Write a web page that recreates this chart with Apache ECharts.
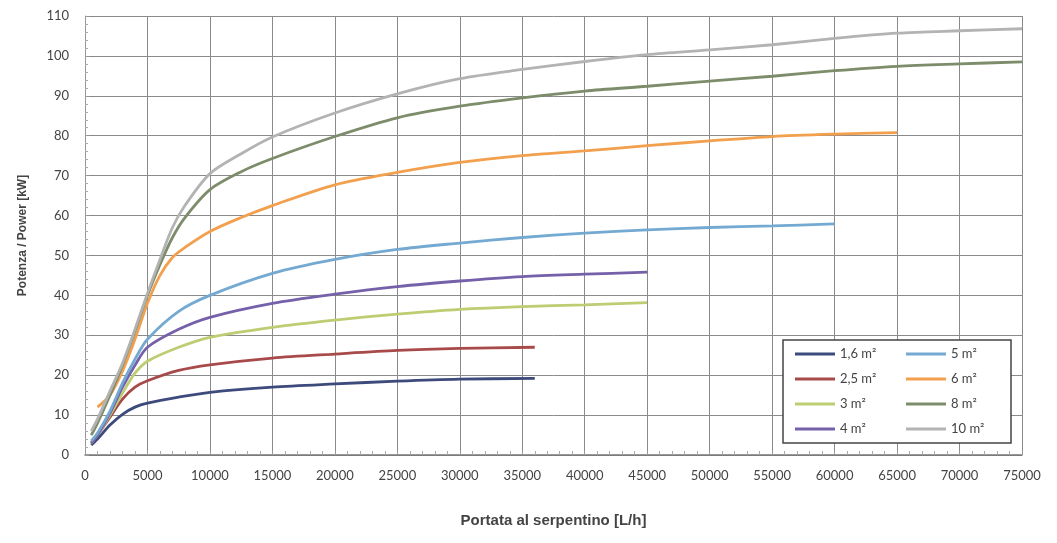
<!DOCTYPE html>
<html>
<head>
<meta charset="utf-8">
<script src="https://cdn.jsdelivr.net/npm/echarts@6/dist/echarts.min.js"></script>
<style>html,body{margin:0;padding:0;background:#fff}#c{width:1057px;height:543px}</style>
</head>
<body>
<div id="c"></div>
<script>
// Series names
const names = ['1,6 m²','2,5 m²','3 m²','4 m²','5 m²','6 m²','8 m²','10 m²'];
const colors = ['#3d4b7c','#a84a4a','#bccd72','#7560aa','#74aad2','#f2a04e','#7d8c6a','#b3b3b3'];

// Flow [L/h] and power [kW] per surface
const flow_1_6 = [500,1000,2000,3000,4000,5000,7500,10000,15000,20000,25000,30000,36000];
const pow_1_6  = [2.5,4,7.5,10.2,12,13,14.5,15.7,17,17.8,18.5,19.0,19.2];

const flow_2_5 = [500,1000,2000,3000,4000,5000,7500,10000,15000,20000,25000,30000,36000];
const pow_2_5  = [3,5,9.5,14,17,18.6,21.2,22.6,24.3,25.3,26.2,26.7,27.0];

const flow_3 = [500,1000,2000,3000,4000,5000,7500,10000,15000,20000,25000,30000,35000,40000,45000];
const pow_3  = [3,5,10,15.5,20.5,23.5,27,29.5,32,33.8,35.3,36.5,37.2,37.6,38.2];

const flow_4 = [500,1000,2000,3000,4000,5000,7500,10000,15000,20000,25000,30000,35000,40000,45000];
const pow_4  = [3,5,10.5,17,22.5,27,31.5,34.5,38,40.3,42.2,43.6,44.7,45.3,45.8];

const flow_5 = [500,1000,2000,3000,4000,5000,7500,10000,15000,20000,25000,30000,35000,40000,45000,50000,55000,60000];
const pow_5  = [3.5,5.5,11,18,24,29,36,40,45.5,49,51.5,53.1,54.5,55.6,56.4,57,57.4,57.9];

const flow_6 = [1000,2000,3000,4000,5000,6000,7000,8000,10000,12500,15000,20000,25000,30000,35000,40000,45000,50000,55000,60000,65000];
const pow_6  = [12,15,21,29,38,45,49.5,52,56,59.5,62.5,67.7,70.8,73.3,75,76.2,77.5,78.7,79.8,80.4,80.8];

const flow_8 = [500,1000,2000,3000,4000,5000,6000,7000,8000,10000,12500,15000,20000,25000,30000,35000,40000,45000,50000,55000,60000,65000,70000,75000];
const pow_8  = [5,8,15,22.5,31,40,47.7,54.5,59.5,66.5,71,74.3,79.8,84.5,87.4,89.5,91.2,92.4,93.7,94.9,96.3,97.4,98,98.5];

const flow_10 = [500,1000,2000,3000,4000,5000,6000,7000,8000,10000,12500,15000,20000,25000,30000,35000,40000,45000,50000,55000,60000,65000,70000,75000];
const pow_10  = [6,9,16,23,31.5,40.5,49,57,62.5,70.5,75.5,79.7,85.7,90.5,94.3,96.6,98.6,100.3,101.5,102.8,104.4,105.7,106.3,106.8];

const flows = [flow_1_6,flow_2_5,flow_3,flow_4,flow_5,flow_6,flow_8,flow_10];
const pows  = [pow_1_6,pow_2_5,pow_3,pow_4,pow_5,pow_6,pow_8,pow_10];

const font = 'Lato, "Open Sans", sans-serif';
const chart = echarts.init(document.getElementById('c'));
chart.setOption({
  animation: false,
  backgroundColor: '#fff',
  grid: { left: 85, right: 35, top: 16, bottom: 88, containLabel: false },
  xAxis: {
    type: 'value', min: 0, max: 75000, interval: 5000,
    name: 'Portata al serpentino [L/h]', nameLocation: 'middle', nameGap: 58,
    nameTextStyle: { fontFamily: 'Liberation Sans, Arial, sans-serif', fontWeight: 'bold', fontSize: 15, color: '#444' },
    axisLine: { show: true, lineStyle: { color: '#777', width: 1.5 } },
    axisTick: { show: true, inside: true, length: 4, lineStyle: { color: '#999' } },
    minorTick: { show: true, splitNumber: 5, length: 4, lineStyle: { color: '#aaa' } },
    axisLabel: { fontFamily: font, fontSize: 13, color: '#444', margin: 14, formatter: v => String(v) },
    splitLine: { show: true, lineStyle: { color: '#8a8a8a', width: 1 } }
  },
  yAxis: {
    type: 'value', min: 0, max: 110, interval: 10,
    name: 'Potenza / Power [kW]', nameLocation: 'middle', nameGap: 56, nameRotate: 90,
    nameTextStyle: { fontFamily: 'Liberation Sans, Arial, sans-serif', fontWeight: 'bold', fontSize: 12, color: '#444' },
    axisLine: { show: true, lineStyle: { color: '#999', width: 1 } },
    axisTick: { show: true, inside: true, length: 4, lineStyle: { color: '#999' } },
    minorTick: { show: true, splitNumber: 5, length: 3, lineStyle: { color: '#aaa' } },
    axisLabel: { fontFamily: font, fontSize: 13, color: '#444', margin: 16 },
    splitLine: { show: true, lineStyle: { color: '#8a8a8a', width: 1 } }
  },
  legend: {
    orient: 'vertical', left: 783, top: 340, height: 90,
    padding: [7, 5, 7, 12], itemGap: 11, itemWidth: 40, itemHeight: 3,
    icon: 'rect',
    backgroundColor: '#fff', borderColor: '#444', borderWidth: 1.5,
    textStyle: { fontFamily: font, fontSize: 13, color: '#444', width: 55, lineHeight: 14, height: 14 },
    data: names
  },
  series: names.map((n, i) => ({
    name: n, type: 'line', smooth: 0.3, symbol: 'none',
    color: colors[i],
    lineStyle: { width: 2.8, color: colors[i] },
    data: flows[i].map((f, j) => [f, pows[i][j]])
  }))
});
</script>
</body>
</html>
